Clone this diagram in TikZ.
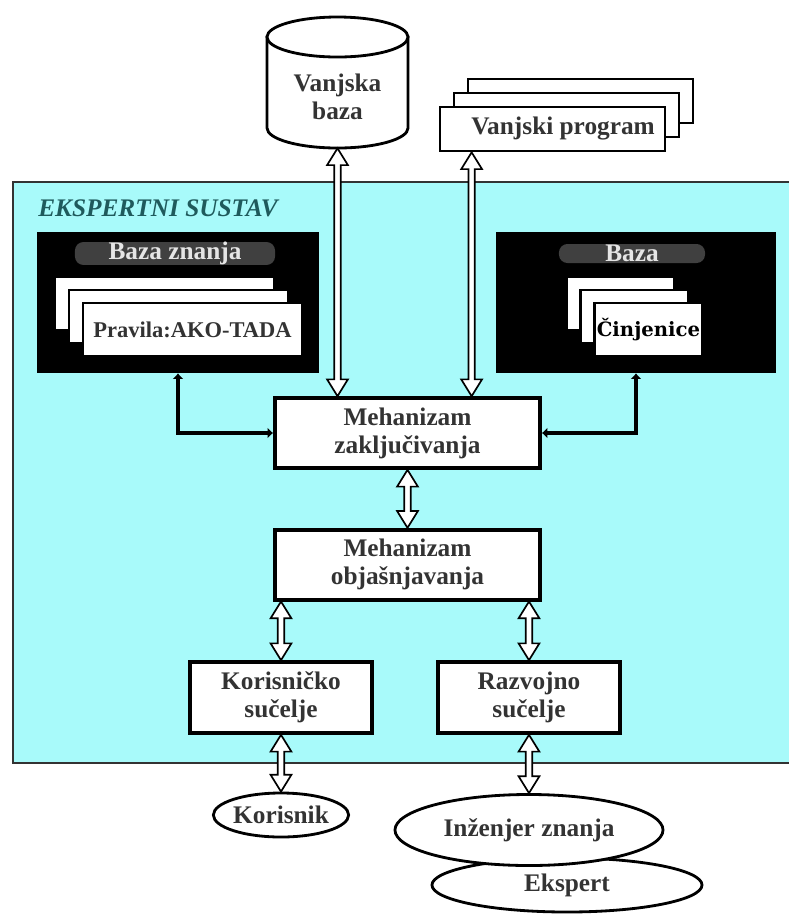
\documentclass[tikz,border=0pt]{standalone}
\usepackage{fontspec}
\setmainfont{Liberation Serif}
\newfontfamily\slabfont{DejaVu Serif}
\usetikzlibrary{shapes.geometric, arrows.meta, positioning, calc}
\definecolor{es-cyan}{HTML}{A8FAFA}
\definecolor{es-teal}{HTML}{1F5A5C}
\definecolor{txt-gray}{HTML}{333333}

% hollow two-headed arrow, top point first
\newcommand{\dblarrow}[2]{%
  \draw[hollow] let \p1=(#1), \p2=(#2) in
    (\x1,\y1) -- (\x1+2.6mm,\y1-4.2mm) -- (\x1+0.8mm,\y1-4.2mm)
    -- (\x1+0.8mm,\y2+4.2mm) -- (\x1+2.6mm,\y2+4.2mm) -- (\x1,\y2)
    -- (\x1-2.6mm,\y2+4.2mm) -- (\x1-0.8mm,\y2+4.2mm)
    -- (\x1-0.8mm,\y1-4.2mm) -- (\x1-2.6mm,\y1-4.2mm) -- cycle;}

\begin{document}
\begin{tikzpicture}[x=0.025cm, y=-0.025cm,
  lbl/.style={font=\fontsize{18}{20}\selectfont\bfseries, text=txt-gray},
  box/.style={rectangle, draw=black, line width=2.6pt, fill=white,
              align=center, inner sep=0pt, lbl},
  page/.style={rectangle, draw=black, line width=2pt, fill=white,
               minimum width=5.475cm, minimum height=1.325cm, inner sep=0pt},
  prog/.style={rectangle, draw=black, line width=1.9pt, fill=white,
               minimum width=5.625cm, minimum height=1.1cm, inner sep=0pt},
  blackbox/.style={rectangle, fill=black, minimum width=7.05cm,
                   minimum height=3.525cm, inner sep=0pt},
  band/.style={rectangle, rounded corners=6pt, fill=black!75,
               text=white!90!black, minimum height=0.475cm, inner sep=0pt,
               font=\fontsize{18}{20}\selectfont\bfseries},
  person/.style={ellipse, draw=black, line width=2pt, fill=white,
                 inner sep=0pt, lbl},
  hollow/.style={draw=black, fill=white, line width=1.2pt, line join=miter},
  link/.style={{Latex[length=4pt,width=8pt]}-{Latex[length=4pt,width=8pt]},
               line width=2.6pt}
]
  \useasboundingbox (0,0) rectangle (789,917);

  % expert system area
  \fill[es-cyan] (13,182) rectangle (800,763);
  \draw[line width=1pt, black!80] (800,182) -- (13,182) -- (13,763) -- (800,763);
  \node[anchor=west, inner sep=0pt, text=es-teal,
        font=\fontsize{18}{20}\selectfont\bfseries\itshape] (es) at (38,208)
        {EKSPERTNI SUSTAV};

  % external database
  \filldraw[fill=white, line width=2pt] (267,37) -- (267,128)
    arc[start angle=180, end angle=360, x radius=1.7625cm, y radius=0.5cm]
    -- (408,37) -- cycle;
  \draw[fill=white, line width=2pt] (337.5,37) ellipse [x radius=1.7625cm, y radius=0.5cm];
  \node[lbl, align=center, minimum width=3.525cm, minimum height=2.55cm,
        inner sep=0pt] (vbaza) at (337.5,97) {Vanjska\\baza};

  % external program
  \foreach \i in {2,1}
    \node[prog] at (552.5+14*\i,129-14*\i) {};
  \node[prog, lbl] (vprog) at (552.5,129) {\hspace{15pt}Vanjski program};
  \coordinate (vp) at ($(vprog.south west)+(33,0)$);

  % knowledge base
  \node[blackbox] (kb) at (178,302.5) {};
  \node[band, minimum width=5cm] (kblabel) at (175,253.5) {Baza znanja};
  \foreach \i in {2,1}
    \node[page] at (192.5-14*\i,329.5-13*\i) {};
  \node[page, font=\fontsize{16}{18}\selectfont\bfseries, text=txt-gray]
       (pravila) at (192.5,329.5) {Pravila:AKO-TADA};

  % fact base
  \node[blackbox, minimum width=7cm] (cb) at (636,302.5) {};
  \node[band, minimum width=3.65cm] (cblabel) at (632,253.5) {Baza};
  \foreach \i in {2,1}
    \node[page, minimum width=2.7cm] at (648.5-14*\i,329.5-13*\i) {};
  \node[page, minimum width=2.7cm,
        font=\slabfont\bfseries\fontsize{14}{16}\selectfont] (cinj)
       at (648.5,329.5) {Činjenice};

  % engines and interfaces
  \node[box, minimum width=6.625cm, minimum height=1.75cm] (mz)
       at (407.5,433) {Mehanizam\\zaključivanja};
  \node[box, minimum width=6.625cm, minimum height=1.75cm, below=1.45cm of mz]
       (mo) {Mehanizam\\objašnjavanja};
  \node[box, minimum width=4.55cm, minimum height=1.775cm] (ks)
       at (281,697.5) {Korisničko\\sučelje};
  \node[box, minimum width=4.55cm, minimum height=1.775cm] (rs)
       at (529,697.5) {Razvojno\\sučelje};

  % people
  \node[person, minimum width=3.175cm, minimum height=1.1cm] (kor)
       at (281,815) {Korisnik};
  \node[person, minimum width=6.75cm, minimum height=1.35cm] (eks)
       at (567,885) {Ekspert};
  \node[person, minimum width=6.7cm, minimum height=1.775cm] (inz)
       at (529,830) {Inženjer znanja};

  \draw[link] (kb.south) |- (mz.west);
  \draw[link] (cb.south) |- (mz.east);

  \dblarrow{vbaza.south}{vbaza.south |- mz.north}
  \dblarrow{vp}{vp |- mz.north}
  \dblarrow{mz.south}{mo.north}
  \dblarrow{ks.north |- mo.south}{ks.north}
  \dblarrow{rs.north |- mo.south}{rs.north}
  \dblarrow{ks.south}{kor.north}
  \dblarrow{rs.south}{inz.north}
\end{tikzpicture}
\end{document}
